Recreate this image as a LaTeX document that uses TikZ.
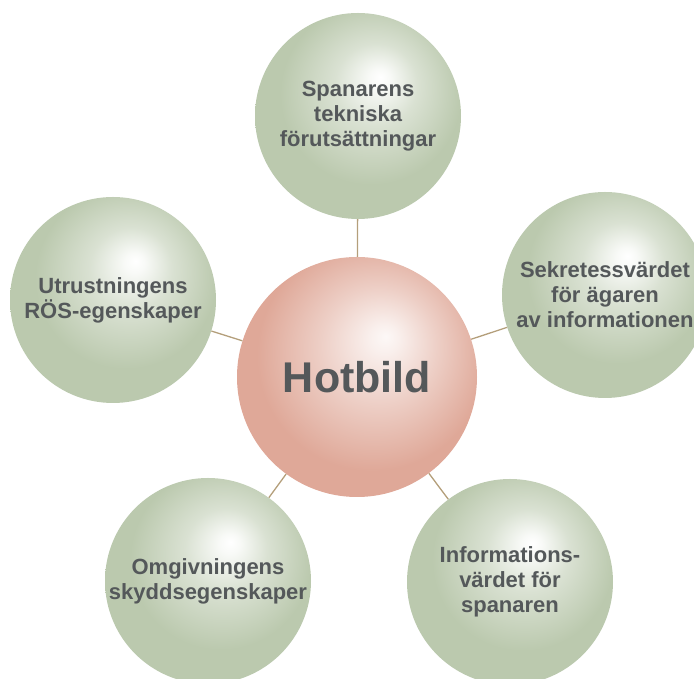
\documentclass[tikz,border=0pt]{standalone}
\usepackage{fontspec}
\setmainfont{Liberation Sans}

\definecolor{sage}{HTML}{BBC9AE}
\definecolor{rose}{HTML}{DFA898}
\definecolor{ink}{HTML}{54585A}
\definecolor{stem}{HTML}{B49F7B}

% the node's bounding box is mapped onto the inner 50bp square
\pgfdeclareradialshading{sageball}{\pgfpoint{5.5bp}{9.5bp}}{%
  color(0bp)=(white); color(2.5bp)=(white!90!sage); color(10bp)=(white!45!sage);
  color(22bp)=(sage); color(50bp)=(sage)}
\pgfdeclareradialshading{roseball}{\pgfpoint{6bp}{8.5bp}}{%
  color(0bp)=(white!92!rose); color(3bp)=(white!82!rose); color(12bp)=(white!45!rose);
  color(24bp)=(rose); color(50bp)=(rose)}

\tikzset{
  ball/.style={circle,inner sep=0pt,minimum size=206pt,shading=sageball,
    text=ink,align=center,font=\bfseries\fontsize{22}{25}\selectfont},
  hub/.style={ball,minimum size=240pt,shading=roseball,
    font=\bfseries\fontsize{43}{50}\selectfont},
  link/.style={stem,line width=1.3pt}
}

\begin{document}
\begin{tikzpicture}[x=1pt,y=1pt]
  \clip (0,0) rectangle (694,679);

  \node[hub] (hotbild) at (357,302) {Hotbild};
  \node[ball] (spanare) at (358,563) {Spanarens\\tekniska\\förutsättningar};
  \node[ball] (sekretess) at (605,384) {Sekretessvärdet\\för ägaren\\av informationen};
  \node[ball] (info) at (510,97) {Informations-\\värdet för\\spanaren};
  \node[ball] (omgivning) at (208,98) {Omgivningens\\skyddsegenskaper};
  \node[ball] (utrustning) at (113,379) {Utrustningens\\RÖS-egenskaper};

  \foreach \p in {spanare,sekretess,info,omgivning,utrustning}
    \draw[link] (hotbild) -- (\p);
\end{tikzpicture}
\end{document}
